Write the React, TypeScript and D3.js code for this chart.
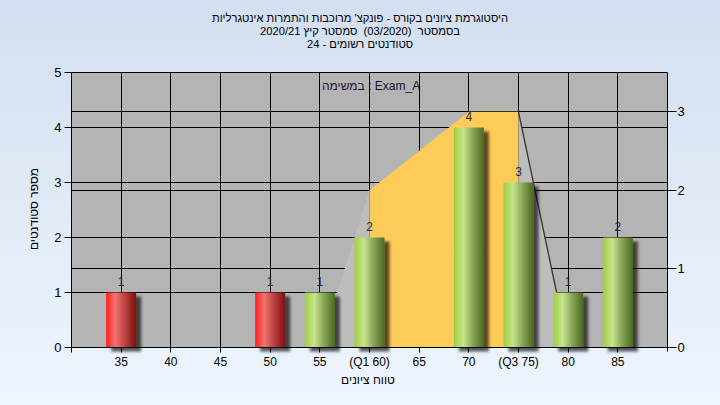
import React from 'react';
import * as d3 from 'd3';

const CATEGORIES = [35, 50, 55, 60, 70, 75, 80, 85];
const COUNTS = [1, 1, 1, 2, 4, 3, 1, 2];
const PASSED = [false, false, true, true, true, true, true, true];
const X_TICKS = [30, 35, 40, 45, 50, 55, 60, 65, 70, 75, 80, 85];
const X_TICK_LABELS = ['', '35', '40', '45', '50', '55', '(Q1 60)', '65', '70', '(Q3 75)', '80', '85'];
const LEFT_TICKS = [0, 1, 2, 3, 4, 5];
const RIGHT_TICKS = [0, 1, 2, 3];
const CURVE_X = [55, 60, 70, 75, 80];
const CURVE_Y = [0, 2, 3, 3, 0];
const TITLE_LINES = [
  "היסטוגרמת ציונים בקורס - פונקצ' מרוכבות והתמרות אינטגרליות",
  'בסמסטר  (03/2020)  סמסטר קיץ 2020/21',
  'סטודנטים רשומים - 24',
];
const LEGEND_TEXT = 'במשימה : Exam_A';
const X_TITLE = 'טווח ציונים';
const Y_TITLE = 'מספר סטודנטים';

const W = 720;
const H = 405;
const FONT_NAME = '"Liberation Sans", Arial, sans-serif';

export default function App() {
  const x = d3.scaleLinear().domain([30, 90]).range([71.5, 667.5]);
  const yL = d3.scaleLinear().domain([0, 5]).range([347.5, 72.5]);
  const yR = d3.scaleLinear().domain([0, 3.5]).range([347.5, 72.5]);
  const px = (v: number) => Math.round(v - 0.5) + 0.5;
  const line = d3
    .line<[number, number]>()
    .x((d) => x(d[0]))
    .y((d) => yR(d[1]));
  const pts: [number, number][] = CURVE_X.map((cx, i) => [cx, CURVE_Y[i]]);
  const leftPoly: [number, number][] = [pts[0], pts[1], [pts[1][0], 0]];
  const midPoly: [number, number][] = [[pts[1][0], 0], pts[1], pts[2], pts[3], [pts[3][0], 0]];
  const rightPoly: [number, number][] = [[pts[3][0], 0], pts[3], pts[4]];
  const barW = 30;
  const left = x.range()[0];
  const right = x.range()[1];
  const top = yL.range()[1];
  const bottom = yL.range()[0];

  return (
    <svg
      width={W}
      height={H}
      style={{ position: 'absolute', left: 0, top: 0, display: 'block' }}
      fontFamily={FONT_NAME}
    >
      <defs>
        <linearGradient id="bg" x1="0" y1="0" x2="0" y2="1">
          <stop offset="0" stopColor="#d3dff0" />
          <stop offset="1" stopColor="#eef5fd" />
        </linearGradient>
        <linearGradient id="red" x1="0" y1="0" x2="1" y2="0">
          <stop offset="0" stopColor="#ff1c1c" />
          <stop offset="0.3" stopColor="#f27373" />
          <stop offset="0.6" stopColor="#c04444" />
          <stop offset="1" stopColor="#7a1010" />
        </linearGradient>
        <linearGradient id="green" x1="0" y1="0" x2="1" y2="0">
          <stop offset="0" stopColor="#a0cd42" />
          <stop offset="0.32" stopColor="#c6e48c" />
          <stop offset="0.62" stopColor="#8aa85c" />
          <stop offset="1" stopColor="#4b691e" />
        </linearGradient>
        <filter id="shadow" x="-20%" y="-10%" width="160%" height="130%">
          <feGaussianBlur in="SourceAlpha" stdDeviation="1.8" />
          <feOffset dx="5" dy="4" result="o" />
          <feComponentTransfer>
            <feFuncA type="linear" slope="0.65" />
          </feComponentTransfer>
          <feMerge>
            <feMergeNode />
            <feMergeNode in="SourceGraphic" />
          </feMerge>
        </filter>
      </defs>
      <rect x={0} y={0} width={W} height={H} fill="url(#bg)" />

      {/* Titles */}
      {TITLE_LINES.map((t, i) => (
        <text
          key={i}
          x={360}
          y={22 + i * 13}
          textAnchor="middle"
          fontSize={11.2}
          fill="#000"
          direction="rtl"
          style={{ whiteSpace: 'pre' }}
        >
          {t}
        </text>
      ))}

      {/* Plot area */}
      <rect x={left} y={top} width={right - left} height={bottom - top} fill="#b4b4b4" />

      {/* Grid lines */}
      {X_TICKS.slice(1).map((t) => (
        <line key={'gx' + t} x1={px(x(t))} x2={px(x(t))} y1={top} y2={bottom} stroke="#000" />
      ))}
      {LEFT_TICKS.slice(1, -1).map((t) => (
        <line key={'gl' + t} x1={left} x2={right} y1={px(yL(t))} y2={px(yL(t))} stroke="#000" />
      ))}
      {RIGHT_TICKS.slice(1).map((t) => (
        <line key={'gr' + t} x1={left} x2={right} y1={px(yR(t))} y2={px(yR(t))} stroke="#000" />
      ))}

      {/* Distribution shape */}
      <path d={line(leftPoly) + 'Z'} fill="#bdbdbd" />
      <path d={line(midPoly) + 'Z'} fill="#ffcb58" />
      <path d={line(rightPoly) + 'Z'} fill="#bdbdbd" />
      <path d={line([pts[3], pts[4]]) || ''} stroke="#333" strokeWidth={1.3} fill="none" />

      {/* Legend text */}
      <text x={322} y={90} fontSize={12} fill="#1a1030" textAnchor="start" direction="ltr">
        {LEGEND_TEXT}
      </text>

      {/* Bars */}
      {CATEGORIES.map((c, i) => (
        <rect
          key={'b' + c}
          x={x(c) - barW / 2}
          y={yL(COUNTS[i])}
          width={barW}
          height={bottom - yL(COUNTS[i])}
          fill={PASSED[i] ? 'url(#green)' : 'url(#red)'}
          filter="url(#shadow)"
        />
      ))}
      {CATEGORIES.map((c, i) => (
        <text
          key={'v' + c}
          x={x(c)}
          y={yL(COUNTS[i]) - 7}
          textAnchor="middle"
          fontSize={12}
          fill="#1c2a44"
        >
          {COUNTS[i]}
        </text>
      ))}

      {/* Frame */}
      <line x1={left} x2={right} y1={top} y2={top} stroke="#000" />
      <line x1={left} x2={left} y1={top} y2={bottom + 4} stroke="#000" />
      <line x1={right} x2={right} y1={top} y2={bottom + 4} stroke="#000" />
      <line x1={left} x2={right} y1={bottom} y2={bottom} stroke="#000" />

      {/* Left axis */}
      {LEFT_TICKS.map((t) => (
        <g key={'lt' + t}>
          <line x1={left - 7} x2={left} y1={px(yL(t))} y2={px(yL(t))} stroke="#000" />
          <text x={left - 10} y={yL(t) + 4.5} textAnchor="end" fontSize={13} fill="#000">
            {t}
          </text>
        </g>
      ))}
      {/* Right axis */}
      {RIGHT_TICKS.map((t) => (
        <g key={'rt' + t}>
          <line x1={right} x2={right + 9} y1={px(yR(t))} y2={px(yR(t))} stroke="#000" />
          <text x={right + 10} y={yR(t) + 4.5} textAnchor="start" fontSize={13} fill="#000">
            {t}
          </text>
        </g>
      ))}
      {/* Bottom axis */}
      {X_TICKS.map((t, i) => (
        <g key={'xt' + t}>
          <line x1={px(x(t))} x2={px(x(t))} y1={bottom} y2={bottom + 5} stroke="#000" />
          <text x={x(t)} y={bottom + 18} textAnchor="middle" fontSize={12} fill="#000">
            {X_TICK_LABELS[i]}
          </text>
        </g>
      ))}

      {/* Axis titles */}
      <text x={368} y={384} textAnchor="middle" fontSize={12} fill="#000" direction="rtl">
        {X_TITLE}
      </text>
      <text
        transform={`translate(38, 209) rotate(-90)`}
        textAnchor="middle"
        fontSize={12}
        fill="#000"
        direction="rtl"
      >
        {Y_TITLE}
      </text>
    </svg>
  );
}
